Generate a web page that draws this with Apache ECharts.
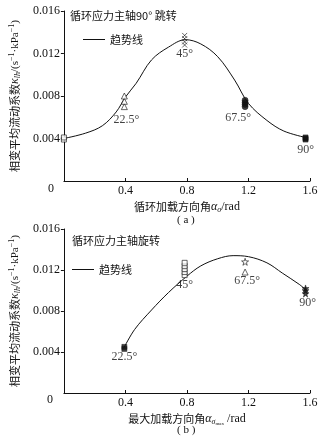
<!DOCTYPE html>
<html><head><meta charset="utf-8">
<script src="https://cdn.jsdelivr.net/npm/echarts@6/dist/echarts.min.js"></script>
<style>html,body{margin:0;padding:0;background:#fff}#c{width:333px;height:440px}</style>
</head><body><div id="c"></div>
<script>
// ---- Tick labels ----
const xTicks = [0, 0.4, 0.8, 1.2, 1.6];
const yTicks = [0, 0.004, 0.008, 0.012, 0.016];

// ---- Chart (a): 循环应力主轴90°跳转 ----
const trendA_x = [0, 0.14, 0.25, 0.34, 0.40, 0.47, 0.57, 0.68, 0.79, 0.89, 1.00, 1.11, 1.20, 1.32, 1.43, 1.57];
const trendA_y = [0.0040, 0.0045, 0.0052, 0.0065, 0.0079, 0.0092, 0.0114, 0.0126, 0.0133, 0.0129, 0.0117, 0.0095, 0.0073, 0.0057, 0.0047, 0.0041];
const a0_x = 0,      a0_y = [0.0039, 0.0041];                   // hollow squares
const a22_x = 0.393, a22_y = [0.0070, 0.0075, 0.0080];          // hollow triangles
const a45_x = 0.785, a45_y = [0.0128, 0.0131, 0.0134, 0.0137];  // crosses
const a67_x = 1.178, a67_y = [0.0070, 0.0072, 0.0074, 0.0076];  // filled circles
const a90_x = 1.571, a90_y = [0.0039, 0.0040, 0.0041];          // filled squares
const labelsA_text = ['22.5°', '45°', '67.5°', '90°'];
const labelsA_x = [0.393, 0.785, 1.178, 1.571];
const labelsA_y = [0.0058, 0.0120, 0.0059, 0.0029];

// ---- Chart (b): 循环应力主轴旋转 ----
const trendB_x = [0.39, 0.46, 0.57, 0.68, 0.80, 0.89, 1.00, 1.10, 1.20, 1.32, 1.42, 1.53, 1.57];
const trendB_y = [0.0044, 0.0062, 0.0081, 0.0098, 0.0114, 0.0124, 0.0131, 0.0134, 0.0133, 0.0127, 0.0117, 0.0106, 0.0101];
const b22_x = 0.393, b22_y = [0.0043, 0.0045];                         // filled squares
const b45_x = 0.785, b45_y = [0.0115, 0.0118, 0.0121, 0.0124, 0.0127]; // hollow squares
const b67_x = 1.178, b67star_y = [0.0128], b67tri_y = [0.0118];        // hollow star, hollow triangle
const b90_x = 1.571, b90_y = [0.0097, 0.0100, 0.0102];                 // filled stars
const labelsB_text = ['22.5°', '45°', '67.5°', '90°'];
const labelsB_x = [0.393, 0.785, 1.178, 1.571];
const labelsB_y = [0.0035, 0.0106, 0.0109, 0.0088];

const SERIF = '"Liberation Serif","DejaVu Serif",serif';
const CJK = '"Noto Sans CJK SC",sans-serif';
const INK = '#111';
const STAR = 'path://M5,0L6.2,3.6L10,3.6L6.9,5.9L8.1,9.5L5,7.3L1.9,9.5L3.1,5.9L0,3.6L3.8,3.6Z';
const CROSS = 'path://M0,0L10,10M10,0L0,10';

const pts = (x, ys) => ys.map(y => [x, y]);
const zip = (xs, ys) => xs.map((x, i) => [x, ys[i]]);

function xAxis(gi, nameRich) {
  return {
    type: 'value', gridIndex: gi, min: 0, max: 1.6, interval: 0.4,
    axisLine: { lineStyle: { color: INK, width: 1 } },
    axisTick: { inside: true, length: 3, lineStyle: { color: INK } },
    splitLine: { show: false },
    axisLabel: { showMinLabel: false, color: INK, fontFamily: SERIF, fontSize: 12, margin: 4,
      formatter: v => xTicks.includes(+v.toFixed(1)) ? (+v.toFixed(1)).toString() : '' },
    name: nameRich, nameLocation: 'middle', nameGap: 19,
    nameTextStyle: { color: INK, fontFamily: CJK, fontSize: 11,
      rich: {
        t: { fontFamily: CJK, fontSize: 11, color: INK, lineHeight: 14 },
        r: { fontFamily: SERIF, fontSize: 12, color: INK, lineHeight: 14 },
        i: { fontFamily: SERIF, fontStyle: 'italic', fontSize: 12, color: INK, lineHeight: 14 },
        s: { fontFamily: SERIF, fontStyle: 'italic', fontSize: 8, color: INK, verticalAlign: 'bottom', lineHeight: 14, padding: [4, 0, 0, 0] },
        ss: { fontFamily: SERIF, fontSize: 5, color: INK, verticalAlign: 'bottom', lineHeight: 14, padding: [6, 0, 0, 0] }
      } }
  };
}
const yName = '{t|相变平均流动系数}{i|κ}{s|lh}{r|/(s}{p|−1}{r|·kPa}{p|−1}{r|)}';
function yAxis(gi) {
  return {
    type: 'value', gridIndex: gi, min: 0, max: 0.016, interval: 0.004,
    axisLine: { show: true, lineStyle: { color: INK, width: 1 } },
    axisTick: { show: true, length: 3, lineStyle: { color: INK } },
    splitLine: { show: false },
    axisLabel: { showMinLabel: false, color: INK, fontFamily: SERIF, fontSize: 12, margin: 4,
      formatter: v => yTicks.includes(+v.toFixed(3)) ? (+v.toFixed(3)).toString() : '' },
    name: yName, nameLocation: 'middle', nameRotate: 90, nameGap: 35,
    nameTextStyle: { color: INK, fontFamily: CJK, fontSize: 11,
      rich: {
        t: { fontFamily: CJK, fontSize: 11, color: INK, lineHeight: 14 },
        r: { fontFamily: SERIF, fontSize: 11, color: INK, lineHeight: 14 },
        i: { fontFamily: SERIF, fontStyle: 'italic', fontSize: 12, color: INK, lineHeight: 14 },
        s: { fontFamily: SERIF, fontStyle: 'italic', fontSize: 8, color: INK, verticalAlign: 'bottom', lineHeight: 14, padding: [4, 0, 0, 0] },
        p: { fontFamily: SERIF, fontSize: 8, color: INK, verticalAlign: 'top', lineHeight: 14, padding: [0, 0, 4, 0] }
      } }
  };
}

function marker(gi, data, symbol, filled, size) {
  return {
    type: 'scatter', xAxisIndex: gi, yAxisIndex: gi, data: data, symbol: symbol, symbolSize: size || 5,
    itemStyle: filled ? { color: INK, borderColor: INK, borderWidth: 0.6 } : { color: '#fff', borderColor: INK, borderWidth: 0.8 },
    z: 5, silent: true
  };
}
function labels(gi, xs, ys, texts, offsets) {
  return {
    type: 'scatter', xAxisIndex: gi, yAxisIndex: gi, symbolSize: 1, itemStyle: { color: 'rgba(0,0,0,0)' },
    data: xs.map((x, i) => ({ value: [x, ys[i]], label: { offset: offsets[i] } })),
    label: { show: true, position: 'inside', color: INK, fontFamily: SERIF, fontSize: 12,
      formatter: p => texts[p.dataIndex] }, z: 6, silent: true
  };
}
function trend(gi, data) {
  return { name: '趋势线', type: 'line', xAxisIndex: gi, yAxisIndex: gi, data: data, smooth: 0.35,
    symbol: 'none', lineStyle: { color: INK, width: 1 }, itemStyle: { color: INK }, z: 3, silent: true };
}
const legendBase = { data: [{ name: '趋势线', icon: 'rect' }], itemWidth: 22, itemHeight: 1, itemGap: 4, selectedMode: false,
  itemStyle: { color: INK, borderWidth: 0 }, textStyle: { fontFamily: CJK, fontSize: 11, color: INK, padding: [0, 0, 0, 0] } };

const chart = echarts.init(document.getElementById('c'), null, { renderer: 'canvas' });
chart.setOption({
  animation: false,
  backgroundColor: '#fff',
  grid: [
    { left: 61, right: 23, top: 11, height: 170 },
    { left: 60, right: 23, top: 229, height: 164 }
  ],
  xAxis: [
    xAxis(0, '{t|循环加载方向角}{i|α}{s|σ}{r|/rad}'),
    xAxis(1, '{t|最大加载方向角}{i|α}{s|σ}{ss|max}{r| /rad}')
  ],
  yAxis: [yAxis(0), yAxis(1)],
  legend: [
    Object.assign({ left: 78, top: 29 }, legendBase),
    Object.assign({ left: 67, top: 259 }, legendBase)
  ],
  graphic: [
    { type: 'text', left: 70, top: 10, style: { text: '循环应力主轴90° 跳转', font: '11px ' + CJK, fill: INK } },
    { type: 'text', left: 72, top: 235, style: { text: '循环应力主轴旋转', font: '11px ' + CJK, fill: INK } },
    { type: 'text', left: 48, top: 183, style: { text: '0', font: '12px ' + SERIF, fill: INK } },
    { type: 'text', left: 47, top: 394, style: { text: '0', font: '12px ' + SERIF, fill: INK } },
    { type: 'text', left: 177, top: 215, style: { text: '( a )', font: '11px ' + SERIF, fill: INK } },
    { type: 'text', left: 177, top: 425, style: { text: '( b )', font: '11px ' + SERIF, fill: INK } }
  ],
  series: [
    trend(0, zip(trendA_x, trendA_y)),
    marker(0, pts(a0_x, a0_y), 'rect', false, 5),
    marker(0, pts(a22_x, a22_y), 'triangle', false, 6),
    marker(0, pts(a45_x, a45_y), CROSS, false, 5),
    marker(0, pts(a67_x, a67_y), 'circle', true, 6),
    marker(0, pts(a90_x, a90_y), 'rect', true, 5),
    labels(0, labelsA_x, labelsA_y, labelsA_text, [[2, 0], [0, 0], [-7, 0], [0, 0]]),
    trend(1, zip(trendB_x, trendB_y)),
    marker(1, pts(b22_x, b22_y), 'rect', true, 5),
    marker(1, pts(b45_x, b45_y), 'rect', false, 5),
    marker(1, pts(b67_x, b67star_y), STAR, false, 7),
    marker(1, pts(b67_x, b67tri_y), 'triangle', false, 6),
    marker(1, pts(b90_x, b90_y), STAR, true, 7),
    labels(1, labelsB_x, labelsB_y, labelsB_text, [[0, 0], [0, 0], [2, 0], [2, 0]])
  ]
});
</script>
</body></html>
